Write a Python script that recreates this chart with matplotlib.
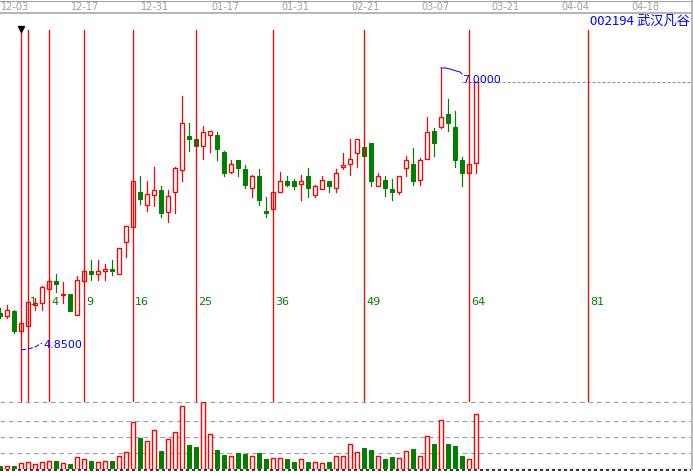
import matplotlib
matplotlib.use("Agg")
import matplotlib.pyplot as plt
from matplotlib.lines import Line2D
from matplotlib.transforms import blended_transform_factory
import numpy as np

# candle index -3 .. 65 (index 0 = start of the square-number lines)
idx = np.arange(-3, 66)

opens = [5.01, 4.99, 5.03, 4.87, 4.91, 5.08, 5.09, 5.21, 5.27, 5.16,
         5.17, 5.00, 5.27, 5.35, 5.33, 5.35, 5.37, 5.33, 5.59, 5.71,
         5.99, 5.89, 5.97, 6.01, 5.83, 5.99, 6.17, 6.45, 6.42, 6.37,
         6.46, 6.46, 6.32, 6.16, 6.25, 6.18, 6.03, 6.12, 5.84, 5.86,
         5.99, 6.08, 6.08, 6.06, 6.12, 5.97, 6.02, 6.08, 6.03, 6.20,
         6.22, 6.31, 6.36, 6.39, 6.04, 6.09, 6.02, 5.99, 6.19, 6.22,
         6.09, 6.26, 6.49, 6.52, 6.63, 6.52, 6.25, 6.15, 6.23]
highs = [5.05, 5.08, 5.04, 4.94, 5.10, 5.13, 5.23, 5.29, 5.33, 5.26,
         5.17, 5.31, 5.37, 5.44, 5.44, 5.41, 5.44, 5.54, 5.72, 6.08,
         6.12, 6.08, 6.20, 6.04, 6.01, 6.20, 6.77, 6.55, 6.42, 6.53,
         6.49, 6.48, 6.33, 6.25, 6.25, 6.21, 6.13, 6.18, 5.95, 5.99,
         6.16, 6.12, 6.10, 6.13, 6.19, 6.05, 6.12, 6.08, 6.18, 6.31,
         6.42, 6.42, 6.36, 6.39, 6.15, 6.12, 6.10, 6.12, 6.29, 6.35,
         6.27, 6.60, 6.51, 7.00, 6.75, 6.65, 6.28, 6.22, 6.89]
lows = [4.97, 4.97, 4.85, 4.86, 4.91, 5.04, 5.04, 5.19, 5.18, 5.09,
        5.03, 5.00, 5.26, 5.28, 5.28, 5.28, 5.32, 5.33, 5.47, 5.71,
        5.90, 5.84, 5.88, 5.79, 5.75, 5.82, 6.08, 6.33, 6.37, 6.26,
        6.32, 6.25, 6.12, 6.15, 6.12, 6.03, 5.95, 5.89, 5.79, 5.86,
        5.99, 6.04, 6.02, 5.93, 5.95, 5.95, 6.02, 5.99, 5.99, 6.18,
        6.13, 6.20, 6.29, 6.04, 6.04, 5.96, 5.93, 5.98, 6.12, 6.05,
        6.05, 6.26, 6.29, 6.51, 6.49, 6.20, 6.04, 6.15, 6.15]
closes = [4.99, 5.04, 4.87, 4.93, 5.10, 5.09, 5.22, 5.27, 5.25, 5.17,
          5.03, 5.28, 5.35, 5.33, 5.35, 5.37, 5.35, 5.54, 5.72, 6.08,
          5.94, 5.98, 6.01, 5.82, 5.96, 6.19, 6.55, 6.42, 6.37, 6.48,
          6.49, 6.34, 6.15, 6.22, 6.19, 6.05, 6.12, 5.93, 5.82, 5.99,
          6.08, 6.05, 6.04, 6.08, 6.03, 6.04, 6.09, 6.04, 6.15, 6.21,
          6.26, 6.42, 6.29, 6.08, 6.12, 6.03, 5.99, 6.12, 6.25, 6.08,
          6.25, 6.48, 6.39, 6.60, 6.55, 6.25, 6.15, 6.22, 6.89]
volumes = [3, 3, 3, 6, 7, 5, 7, 8, 8, 6,
           5, 12, 10, 8, 7, 8, 8, 13, 17, 47,
           31, 28, 39, 18, 30, 37, 63, 24, 22, 67,
           35, 19, 14, 13, 16, 15, 13, 16, 10, 11,
           11, 10, 7, 10, 7, 7, 6, 7, 13, 13,
           25, 17, 21, 19, 13, 10, 12, 11, 18, 20,
           13, 33, 25, 49, 25, 23, 13, 10, 55]

dates = ["12-03", "12-17", "12-31", "01-17", "01-31",
         "02-21", "03-07", "03-21", "04-04", "04-18"]
date_idx = [-3, 7, 17, 27, 37, 47, 57, 67, 77, 87]
squares = [0, 1, 4, 9, 16, 25, 36, 49, 64, 81]
title = "002194 武汉凡谷"

RED = "#ff0000"
GREEN = "#008000"
GRAY = "#a0a0a0"
PX = 0.72  # one pixel in points at dpi 100
k = 2.15 / 265  # price per pixel

W, H = 693, 472
fig = plt.figure(figsize=(W / 100, H / 100), dpi=100)
fig.patch.set_facecolor("white")
ax = fig.add_axes([0, 70 / H, 691 / W, 388 / H])
axv = fig.add_axes([0, 3 / H, 691 / W, 67 / H])

xmin, xmax = -3, (691 - 21) / 7
ax.set_xlim(xmin, xmax)
ax.set_ylim(7.0 - 334 * k, 7.0 + 54 * k)
axv.set_xlim(xmin, xmax)
axv.set_ylim(0, 67)
for a in (ax, axv):
    a.axis("off")

o = np.array(opens); c = np.array(closes)
hi = np.array(highs); lo = np.array(lows)
up = c >= o
bw = 0.7

# wicks
for i in range(len(idx)):
    col = RED if up[i] else GREEN
    top, bot = max(o[i], c[i]), min(o[i], c[i])
    ax.plot([idx[i], idx[i]], [top, hi[i]], color=col, lw=PX * 1.2, zorder=1)
    ax.plot([idx[i], idx[i]], [lo[i], bot], color=col, lw=PX * 1.2, zorder=1)
    if abs(c[i] - o[i]) < 0.006:
        ax.plot([idx[i] - bw / 2, idx[i] + bw / 2], [c[i], c[i]],
                color=col, lw=PX * 1.6, zorder=2)

body_h = np.abs(c - o)
body_b = np.minimum(o, c)
ax.bar(idx[up], body_h[up], bottom=body_b[up], width=bw, facecolor="white",
       edgecolor=RED, linewidth=PX * 1.3, zorder=2)
ax.bar(idx[~up], body_h[~up], bottom=body_b[~up], width=bw, facecolor=GREEN,
       edgecolor=GREEN, linewidth=PX, zorder=2)

# square-number lines
line_top = 7.0 + 38 * k
for s in squares:
    ax.plot([s, s], [ax.get_ylim()[0], line_top], color=RED, lw=PX * 1.3, zorder=3)
    if s > 0:
        ax.text(s + 0.3, 7.0 - 234 * k, str(s), color=GREEN, fontsize=8,
                ha="left", va="center", zorder=4)
ax.plot([0], [line_top + 1.5 * k], marker="v", color="black", markersize=5,
        zorder=4, clip_on=False)

# high / low marks
hx = int(idx[np.argmax(hi)]); hy = hi.max()
ax.plot([hx, hx + 5 / 7, hx + 19 / 7, hx + 21 / 7],
        [hy, hy, hy - 4 * k, hy - 6 * k], color="blue", lw=PX, zorder=4)
ax.text(hx + 21 / 7, hy - 12 * k, "%.4f" % hy, color="blue", fontsize=8,
        ha="left", va="center", zorder=4)
ax.plot([hx + 21 / 7, xmax], [c[-1], c[-1]], color="#8890b0", lw=PX,
        ls=(0, (3, 2)), zorder=1)

ly = lo.min()
ax.plot([0, 1, 2, 3], [ly - 17 * k, ly - 16 * k, ly - 14 * k, ly - 10 * k],
        color="blue", lw=PX, ls=(0, (5, 2)), zorder=4)
ax.text(3.15, ly - 12 * k, "%.4f" % ly, color="blue", fontsize=8,
        ha="left", va="center", zorder=4)

# volume
vol = np.array(volumes)
axv.bar(idx[up], vol[up], width=bw, facecolor="white", edgecolor=RED,
        linewidth=PX * 1.4, zorder=2)
axv.bar(idx[~up], vol[~up], width=bw, facecolor=GREEN, edgecolor=GREEN,
        linewidth=PX, zorder=2)
for g in [16, 32, 48, 67]:
    axv.plot([xmin, xmax], [g, g], color=GRAY, lw=PX * 1.2,
             ls=(0, (4, 3)), zorder=1, clip_on=False)

# frame / top band
fig.add_artist(Line2D([0, 691 / W], [1 - 13 / H] * 2, color=GRAY, lw=PX * 1.5))
fig.add_artist(Line2D([0, 1], [1 - 0.5 / H] * 2, color=GRAY, lw=PX))
fig.add_artist(Line2D([691.5 / W] * 2, [3 / H, 1], color=GRAY, lw=PX * 1.5))
fig.add_artist(Line2D([0, 691 / W], [3 / H] * 2, color="#909090", lw=PX * 1.3))
fig.add_artist(Line2D([0, 691 / W], [1.6 / H] * 2, color="white", lw=PX * 1.5))
fig.add_artist(Line2D([0, 691 / W], [1.6 / H] * 2, color="black", lw=PX * 1.5,
                      ls=(0, (2, 2))))

tr = blended_transform_factory(ax.transData, fig.transFigure)
for d, di in zip(dates, date_idx):
    ax.text(di + 0.15, 1 - 6.5 / H, d, transform=tr, color=GRAY, fontsize=7,
            ha="left", va="center", clip_on=False)

fig.text(690 / W, 1 - 21 / H, title, color="blue", fontsize=9.5, ha="right",
         va="center", family=["Noto Sans CJK SC", "DejaVu Sans"])

fig.savefig("out.png", dpi=100)
